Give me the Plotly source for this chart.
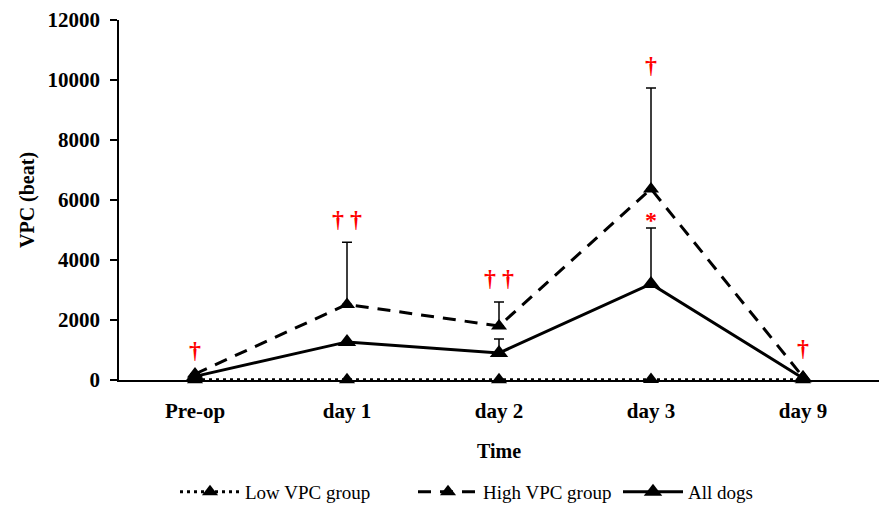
import plotly.graph_objects as go

categories = ["Pre-op", "day 1", "day 2", "day 3", "day 9"]
low_vpc = [10, 10, 10, 20, 10]
high_vpc = [200, 2520, 1800, 6370, 100]
high_err = [0, 2070, 800, 3360, 0]
all_dogs = [120, 1270, 900, 3200, 60]
all_err = [0, 0, 470, 1870, 0]

sig_x = ["Pre-op", "day 1", "day 2", "day 3", "day 3", "day 9"]
sig_y = [1000, 5370, 3400, 10500, 5330, 1070]
sig_text = ["†", "† †", "† †", "†", "*", "†"]

FONT = "Liberation Serif"

fig = go.Figure()
fig.add_trace(go.Scatter(
    x=categories, y=low_vpc, name="Low VPC group", mode="lines+markers",
    line=dict(color="black", width=3, dash="3px,4px"),
    marker=dict(symbol="triangle-up", size=14, color="black"),
    cliponaxis=False, legend="legend"))
fig.add_trace(go.Scatter(
    x=categories, y=high_vpc, name="High VPC group", mode="lines+markers",
    line=dict(color="black", width=3, dash="13px,9px"),
    marker=dict(symbol="triangle-up", size=14, color="black"),
    error_y=dict(type="data", array=high_err, arrayminus=[0]*5, symmetric=False,
                 color="black", thickness=1.5, width=5),
    cliponaxis=False, legend="legend2"))
fig.add_trace(go.Scatter(
    x=categories, y=all_dogs, name="All dogs", mode="lines+markers",
    line=dict(color="black", width=3),
    marker=dict(symbol="triangle-up", size=16, color="black"),
    error_y=dict(type="data", array=all_err, arrayminus=[0]*5, symmetric=False,
                 color="black", thickness=1.5, width=5),
    cliponaxis=False, legend="legend3"))

for xv, yv, t in zip(sig_x, sig_y, sig_text):
    fig.add_annotation(x=xv, y=yv, text=t, showarrow=False,
                       font=dict(family=FONT, size=24, color="red", weight="bold"))

def leg(xpx):
    return dict(orientation="h", xref="container", yref="container",
                x=xpx / 879, xanchor="left", y=(505 - 492) / 505, yanchor="middle",
                font=dict(family=FONT, size=19), itemwidth=60,
                bgcolor="rgba(0,0,0,0)")

fig.update_layout(
    width=879, height=505,
    margin=dict(l=119, r=0, t=20, b=125),
    paper_bgcolor="white", plot_bgcolor="white",
    font=dict(family=FONT, color="black"),
    showlegend=True,
    legend=leg(175), legend2=leg(413), legend3=leg(618),
    xaxis=dict(type="category", range=[-0.5, 4.5], showline=True, linecolor="black",
               linewidth=1.5, ticks="", showgrid=False, zeroline=False, automargin=False,
               tickfont=dict(family=FONT, size=21, weight="bold"), ticklabelstandoff=11,
               title=dict(text="Time", font=dict(family=FONT, size=20, weight="bold"), standoff=22)),
    yaxis=dict(range=[0, 12000], dtick=2000, tickformat="d", showline=True, linecolor="black",
               linewidth=1.5, ticks="outside", ticklen=7, tickcolor="black", tickwidth=1.5,
               showgrid=False, zeroline=False, automargin=False,
               tickfont=dict(family=FONT, size=21, weight="bold"), ticklabelstandoff=6,
               title=dict(text="VPC (beat)", font=dict(family=FONT, size=20, weight="bold"), standoff=8)),
)

fig.write_html("out.html")
